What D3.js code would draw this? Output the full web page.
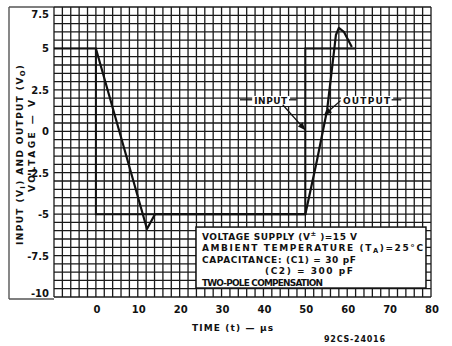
<!DOCTYPE html>
<html>
<head>
<meta charset="utf-8">
<script src="https://cdn.jsdelivr.net/npm/d3@7"></script>
<style>
  html, body { margin: 0; padding: 0; background: #fff; }
  svg { display: block; }
  text { font-family: "DejaVu Sans", sans-serif; font-weight: 600; fill: #111; }
</style>
</head>
<body>
<svg id="chart" width="452" height="346"></svg>
<script>
// Tick labels
const timeTicks = [0, 10, 20, 30, 40, 50, 60, 70, 80];
const voltTicks = [7.5, 5, 2.5, 0, -2.5, -5, -7.5, -10];
const voltTickText = ["7.5", "5", "2.5", "0", "-2.5", "-5", "-7.5", "-10"];

// Input square wave (µs, V)
const inputTime = [-10, 0, 0, 50, 50, 62];
const inputVolt = [5, 5, -5, -5, 5, 5];

// Output response (µs, V)
const outputTime = [0, 12.2, 14.1, 50, 52.8, 55.2, 56.6, 57.3, 58.0, 59.2, 61.1];
const outputVolt = [5, -5.9, -5, -5, -1.73, 1.29, 4.3, 5.81, 6.24, 6.0, 5.09];

// Test conditions: text pieces, with sub/superscripts marked
const conditionLines = [
  ["VOLTAGE SUPPLY (V", {sup: "±"}, " )=15 V"],
  ["AMBIENT TEMPERATURE (T", {sub: "A"}, ")=25°C"],
  ["CAPACITANCE: (C1) = 30 pF"],
  ["(C2) = 300 pF"],
  ["TWO-POLE COMPENSATION"]
];
const conditionWidths = [155, 221, 154, 88, 121];

const svg = d3.select("#chart");
const x = d3.scaleLinear().domain([-10, 80]).range([54, 431]);
const y = d3.scaleLinear().domain([-10, 7.5]).range([297, 7]);

// Writes pieces into a text node; strings are plain, {sub}/{sup} are shifted
function writePieces(t, parts) {
  let shift = 0;
  parts.forEach(p => {
    if (typeof p === "string") {
      t.append("tspan").attr("dy", (-shift) + "em").text(p);
      shift = 0;
    } else if (p.sup) {
      t.append("tspan").attr("font-size", "75%").attr("dy", "-0.45em").text(p.sup);
      shift = -0.45 * 0.75;
    } else if (p.sub) {
      t.append("tspan").attr("font-size", "75%").attr("dy", "0.25em").text(p.sub);
      shift = 0.25 * 0.75;
    }
  });
}

// Spreads or tightens a lettering line to a given width,
// shrinking the size only when tight spacing is not enough
function fitWidth(t, target) {
  const n = Math.max(1, t.text().length - 1);
  let w = t.node().getComputedTextLength();
  const minSpacing = -0.8;
  if (w + minSpacing * n > target) {
    const fs = parseFloat(t.attr("font-size")) * target / (w + minSpacing * n);
    t.attr("font-size", fs);
    w = t.node().getComputedTextLength();
  }
  t.attr("letter-spacing", Math.max(minSpacing, (target - w) / n));
}

// Outer frame around the axis-title panel
const frame = svg.append("g").attr("fill", "none").attr("stroke", "#555").attr("stroke-width", 1.4);
frame.append("line").attr("x1", 9).attr("x2", x(-10)).attr("y1", y(7.5)).attr("y2", y(7.5));
frame.append("line").attr("x1", 9).attr("x2", 9).attr("y1", y(7.5)).attr("y2", y(-10) + 2);
frame.append("line").attr("x1", 9).attr("x2", x(-10)).attr("y1", y(-10) + 2).attr("y2", y(-10) + 2);

// Graph-paper grid: 2 µs by 0.5 V
const grid = svg.append("g").attr("stroke", "#1a1a1a").attr("stroke-width", 1.3);
grid.selectAll("line.v").data(d3.range(-10, 80.001, 2)).join("line")
  .attr("x1", d => x(d)).attr("x2", d => x(d))
  .attr("y1", y(7.5)).attr("y2", y(-10));
grid.selectAll("line.h").data(d3.range(-10, 7.501, 0.5)).join("line")
  .attr("x1", x(-10)).attr("x2", x(80))
  .attr("y1", d => y(d)).attr("y2", d => y(d));

// Waveforms
const line = d3.line().x(d => x(d[0])).y(d => y(d[1]));
svg.append("path")
  .datum(d3.zip(inputTime, inputVolt))
  .attr("d", line).attr("fill", "none")
  .attr("stroke", "#111").attr("stroke-width", 2);
svg.append("path")
  .datum(d3.zip(outputTime, outputVolt))
  .attr("d", line).attr("fill", "none")
  .attr("stroke", "#111").attr("stroke-width", 2.2).attr("stroke-linejoin", "round");

// Y tick labels
svg.append("g").selectAll("text").data(voltTicks).join("text")
  .attr("x", 49)
  .attr("y", d => y(d) + (d === 7.5 ? 11 : d === -10 ? 0 : 4))
  .attr("text-anchor", "end").attr("font-size", 10).style("font-weight", "bold")
  .text((d, i) => voltTickText[i]);

// X tick labels
svg.append("g").selectAll("text").data(timeTicks).join("text")
  .attr("x", d => x(d) + 1).attr("y", 313)
  .attr("text-anchor", "middle").attr("font-size", 10).style("font-weight", "bold")
  .text(d => d);

// Axis titles (rotated, start-anchored from the bottom end)
const yTitle = svg.append("text")
  .attr("transform", `translate(23,245) rotate(-90)`)
  .attr("font-size", 9);
writePieces(yTitle, ["INPUT (V", {sub: "I"}, ") AND OUTPUT (V", {sub: "O"}, ")"]);
fitWidth(yTitle, 180);

const yTitle2 = svg.append("text")
  .attr("transform", `translate(35,192) rotate(-90)`)
  .attr("font-size", 9)
  .text("VOLTAGE — V");
fitWidth(yTitle2, 92);

const xTitle = svg.append("text")
  .attr("x", 192).attr("y", 331).attr("font-size", 9)
  .text("TIME (t) — μs");
fitWidth(xTitle, 81);

const code = svg.append("text")
  .attr("x", 324).attr("y", 342).attr("font-size", 8).attr("font-weight", "normal")
  .text("92CS-24016");
fitWidth(code, 61);

// Conditions box
const box = svg.append("g");
box.append("rect")
  .attr("x", x(23.9)).attr("y", y(-5.78))
  .attr("width", x(78.8) - x(23.9)).attr("height", y(-9.46) - y(-5.78))
  .attr("fill", "#fff").attr("stroke", "#111").attr("stroke-width", 1.5);
conditionLines.forEach((parts, i) => {
  const t = box.append("text")
    .attr("x", i === 3 ? 265 : 202).attr("y", 239.5 + i * 11.5)
    .attr("font-size", 9);
  writePieces(t, parts);
  fitWidth(t, conditionWidths[i]);
});

// Annotations: INPUT and OUTPUT callouts
svg.append("defs").append("marker")
  .attr("id", "head").attr("viewBox", "0 0 10 10")
  .attr("refX", 9).attr("refY", 5)
  .attr("markerWidth", 7).attr("markerHeight", 6).attr("orient", "auto")
  .append("path").attr("d", "M0,1 L10,5 L0,9 Z").attr("fill", "#111");

const note = svg.append("g");
function label(t, v, str, w) {
  const txt = note.append("text").attr("x", x(t)).attr("y", y(v))
    .attr("font-size", 9).text(str);
  fitWidth(txt, w);
  const bb = txt.node().getBBox();
  note.insert("rect", "text").attr("x", bb.x - 2).attr("y", bb.y)
    .attr("width", bb.width + 4).attr("height", bb.height).attr("fill", "#fff");
}
label(37.8, 1.65, "INPUT", 33);
label(59.0, 1.65, "OUTPUT", 47);

const leaders = note.append("g").attr("stroke", "#111").attr("stroke-width", 1.3);
leaders.append("line").attr("x1", x(34.4)).attr("x2", x(37.3)).attr("y1", y(1.9)).attr("y2", y(1.9));
leaders.append("line").attr("x1", x(46.1)).attr("x2", x(47.9)).attr("y1", y(1.9)).attr("y2", y(1.9));
leaders.append("line").attr("x1", x(70.6)).attr("x2", x(72.9)).attr("y1", y(1.9)).attr("y2", y(1.9));
leaders.append("line").attr("x1", x(44.6)).attr("y1", y(1.6))
  .attr("x2", x(49.9)).attr("y2", y(0.1)).attr("marker-end", "url(#head)");
leaders.append("line").attr("x1", x(58.4)).attr("y1", y(1.85))
  .attr("x2", x(54.6)).attr("y2", y(1.0)).attr("marker-end", "url(#head)");
</script>
</body>
</html>
